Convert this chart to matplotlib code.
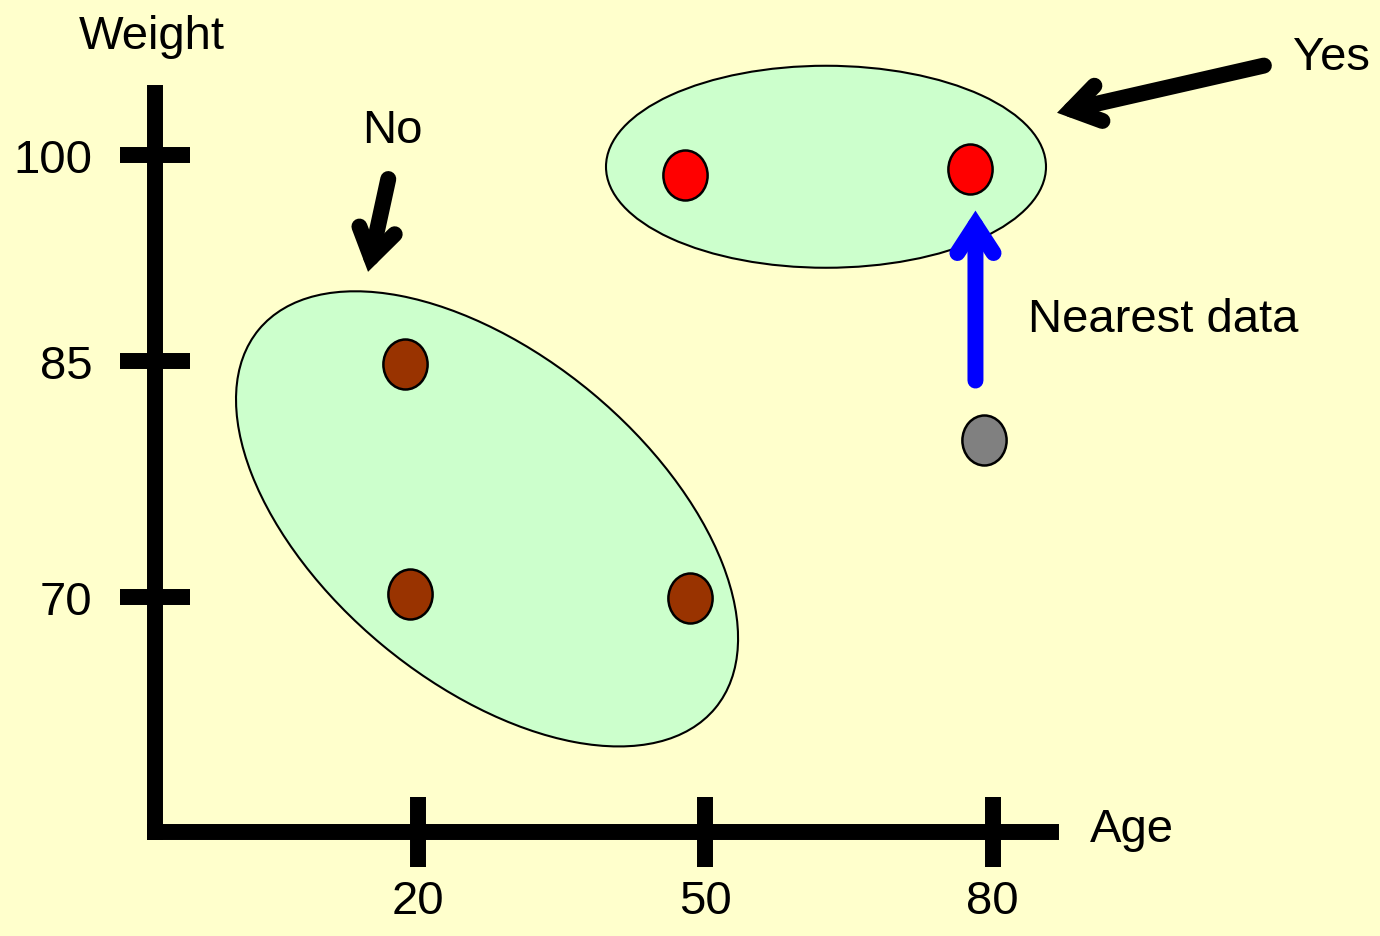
import numpy as np
import matplotlib
matplotlib.use("Agg")
import matplotlib.pyplot as plt
from matplotlib.patches import Ellipse
from matplotlib.path import Path
from matplotlib.transforms import Affine2D, ScaledTranslation

plt.rcParams['font.family'] = ['Liberation Sans', 'DejaVu Sans']

# samples as (age, weight)
no_age = [18.6, 19.2, 48.4]
no_weight = [84.8, 70.2, 69.9]
yes_age = [47.9, 77.7]
yes_weight = [98.5, 99.0]
query_age = [79.1]
query_weight = [80.0]

age_ticks = [20, 50, 80]
weight_ticks = [70, 85, 100]

BG = '#FFFFCC'
GROUP_FILL = '#CCFFCC'

# the weight axis is hand drawn: 100->85 is shorter than 85->70
w_knots = np.array([40.0, 70.0, 85.0, 100.0, 130.0])
s_knots = np.array([-30 * 236 / 15, 0.0, 236.0, 442.0, 442 + 30 * 206 / 15])


def w_fwd(w):
	return np.interp(w, w_knots, s_knots)


def w_inv(s):
	return np.interp(s, s_knots, w_knots)


fig = plt.figure(figsize=(13.8, 9.37), dpi=100, facecolor=BG)
ax = fig.add_axes([0.11196, 0.11046, 0.64964, 0.78922])
ax.set_facecolor('none')
ax.set_yscale('function', functions=(w_fwd, w_inv))
ax.set_xlim(-7.52, 86.11)
ax.set_ylim(55.03, 104.5)

for side in ['top', 'right']:
	ax.spines[side].set_visible(False)
for side in ['left', 'bottom']:
	ax.spines[side].set_linewidth(11.5)
	ax.spines[side].set_color('black')
	ax.spines[side].set_capstyle('projecting')

ax.set_xticks(age_ticks)
ax.set_yticks(weight_ticks)
ax.set_xticklabels([str(t) for t in age_ticks])
ax.set_yticklabels([str(t) for t in weight_ticks])
ax.minorticks_off()
ax.tick_params(direction='inout', length=51, width=11.5, labelsize=34, colors='black')
ax.tick_params(axis='x', pad=8)
ax.tick_params(axis='y', pad=19)


def px_ellipse(age, weight, w, h, angle):
	# size in pixels, centre in data units
	trans = Affine2D().scale(1 / 100) + fig.dpi_scale_trans + ScaledTranslation(age, weight, ax.transData)
	e = Ellipse((0, 0), w, h, angle=angle, transform=trans, facecolor=GROUP_FILL,
		edgecolor='black', linewidth=1.5, clip_on=False, zorder=1)
	ax.add_patch(e)


px_ellipse(62.61, 99.13, 440, 202, 0)
px_ellipse(27.21, 74.96, 593, 328, -39.7)

dot = Path.unit_circle().transformed(Affine2D().scale(46, 52))
ax.scatter(no_age, no_weight, s=1296, marker=dot, c='#993300', edgecolors='black', linewidths=1.8, zorder=3, clip_on=False)
ax.scatter(yes_age, yes_weight, s=1296, marker=dot, c='#FF0000', edgecolors='black', linewidths=1.8, zorder=3, clip_on=False)
ax.scatter(query_age, query_weight, s=1296, marker=dot, c='#808080', edgecolors='black', linewidths=1.8, zorder=3, clip_on=False)

arrow_kw = dict(arrowstyle='->, head_length=20, head_width=13', mutation_scale=1, lw=11.5,
	capstyle='round', joinstyle='miter', shrinkA=6, shrinkB=0)
ax.annotate('', xy=(14.78, 91.48), xytext=(17.08, 98.83), annotation_clip=False,
	arrowprops=dict(color='black', **arrow_kw), zorder=4)
ax.annotate('', xy=(86.74, 103.06), xytext=(109.19, 106.63), annotation_clip=False,
	arrowprops=dict(color='black', **arrow_kw), zorder=4)
ax.annotate('', xy=(78.22, 95.94), xytext=(78.22, 83.22), annotation_clip=False,
	arrowprops=dict(color='#0000FF', **arrow_kw), zorder=4)

ax.text(-7.78, 107.79, 'Weight', fontsize=34, ha='center', va='baseline')
ax.text(90.18, 54.49, 'Age', fontsize=34, ha='left', va='baseline')
ax.text(17.3, 100.9, 'No', fontsize=34, ha='center', va='baseline')
ax.text(115.4, 106.26, 'Yes', fontsize=34, ha='center', va='baseline')
ax.text(83.71, 87.18, 'Nearest data', fontsize=34, ha='left', va='baseline')

fig.savefig('out.png', dpi=100, facecolor=BG)
